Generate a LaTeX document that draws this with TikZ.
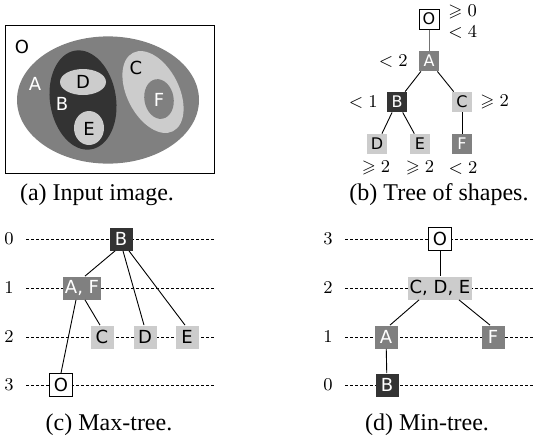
\documentclass[tikz,border=0pt]{standalone}
\usepackage{amsmath}
\usepackage{amssymb}
\usepackage{fontspec}
\setmainfont{Liberation Serif}
\newfontfamily\lettersf{DejaVu Sans}
\usetikzlibrary{positioning, calc}

\definecolor{darkB}{gray}{0.2}
\definecolor{midA}{gray}{0.5}
\definecolor{lightC}{gray}{0.8}

\begin{document}
\begin{tikzpicture}[x=0.5pt, y=-0.5pt,
    shp/.style={inner sep=1pt, minimum width=11.5pt, minimum height=11.5pt,
        font=\lettersf\fontsize{9}{10}\selectfont},
    shpb/.style={inner sep=1pt, minimum width=10pt, minimum height=10pt,
        font=\lettersf\fontsize{8}{9}\selectfont},
    lvO/.style={fill=white, draw=black, line width=0.5pt},
    lvA/.style={fill=midA, text=white},
    lvB/.style={fill=darkB, text=white},
    lvC/.style={fill=lightC, text=black},
    edge/.style={line width=0.45pt},
    level/.style={dashed, dash pattern=on 1.5pt off 1pt, line width=0.4pt},
    lab/.style={font=\lettersf\fontsize{9}{10}\selectfont},
    ineq/.style={font=\fontsize{9}{10}\selectfont, inner sep=1pt},
    capt/.style={font=\fontsize{12}{14}\selectfont}]
\useasboundingbox (0,0) rectangle (533,435);

% Input image
\draw[line width=0.5pt] (5,25) rectangle (214,173);
\fill[midA] (108,100) ellipse [x radius=45.5pt, y radius=31.8pt];
\fill[darkB, shift={(83,100)}, rotate=9] (0,0) ellipse [x radius=16.5pt, y radius=25pt];
\fill[lightC] (83,82) ellipse [x radius=11.5pt, y radius=6.5pt];
\fill[lightC] (89,128) ellipse [x radius=7.5pt, y radius=8.5pt];
\fill[lightC, shift={(153,92)}, rotate=27] (0,0) ellipse [x radius=13pt, y radius=22pt];
\fill[midA, shift={(159,99)}, rotate=10] (0,0) ellipse [x radius=7.3pt, y radius=10pt];
\node[lab] (imO) at (22,47) {O};
\node[lab, text=white] (imA) at (35,84) {A};
\node[lab, text=white] (imB) at (62,104) {B};
\node[lab] (imC) at (136,68) {C};
\node[lab] (imD) at (83,82) {D};
\node[lab] (imE) at (89,129) {E};
\node[lab, text=white] (imF) at (159,100) {F};
\node[capt] (captA) at (97,195) {(a) Input image.};

% Tree of shapes
\node[shpb, lvO] (tO) at (429,19) {O};
\node[shpb, lvA] (tA) at (429,61) {A};
\node[shpb, lvB] (tB) at (397,102) {B};
\node[shpb, lvC] (tC) at (462,102) {C};
\node[shpb, lvC] (tD) at (377,144) {D};
\node[shpb, lvC] (tE) at (420,144) {E};
\node[shpb, lvA] (tF) at (462,144) {F};
\draw[edge, black!55] (tO) -- (tA);
\draw[edge] (tA) -- (tB);
\draw[edge] (tA) -- (tC);
\draw[edge] (tB) -- (tD);
\draw[edge] (tB) -- (tE);
\draw[edge] (tC) -- (tF);
\node[ineq, anchor=west] (iO1) at (446,12) {$\geqslant 0$};
\node[ineq, anchor=west] (iO2) at (446,32) {$< 4$};
\node[ineq, anchor=east] (iA) at (410,61) {$< 2$};
\node[ineq, anchor=east] (iB) at (380,102) {$< 1$};
\node[ineq, anchor=west] (iC) at (478,102) {$\geqslant 2$};
\node[ineq] (iD) at (376,168) {$\geqslant 2$};
\node[ineq] (iE) at (420,168) {$\geqslant 2$};
\node[ineq] (iF) at (463,168) {$< 2$};
\node[capt] (captB) at (439,195) {(b) Tree of shapes.};

% Max-tree
\foreach \lv/\y in {0/239, 1/288, 2/337, 3/385} {
    \node[ineq] at (9,\y) {$\lv$};
    \draw[level] (26,\y) -- (214,\y);
}
\node[shp, lvB] (xB) at (121,239) {B};
\node[shp, lvA] (xAF) at (82,288) {A, F};
\node[shp, lvC] (xC) at (102,337) {C};
\node[shp, lvC] (xD) at (145,337) {D};
\node[shp, lvC] (xE) at (187,337) {E};
\node[shp, lvO] (xO) at (61,385) {O};
\draw[edge] ([xshift=-3pt]xB.south) -- ([xshift=1.5pt]xAF.north);
\draw[edge] ([xshift=1pt]xB.south) -- ([xshift=-0.5pt]xD.north);
\draw[edge] ([xshift=4pt]xB.south) -- ([xshift=-1pt]xE.north);
\draw[edge] ([xshift=1.5pt]xAF.south) -- ([xshift=-1pt]xC.north);
\draw[edge] ([xshift=-3pt]xAF.south) -- (xO.north);
\node[capt] (captC) at (109,425) {(c) Max-tree.};

% Min-tree
\foreach \lv/\y in {3/239, 2/288, 1/337, 0/385} {
    \node[ineq] at (328,\y) {$\lv$};
    \draw[level] (345,\y) -- (533,\y);
}
\node[shp, lvO] (nO) at (440,239) {O};
\node[shp, lvC] (nCDE) at (440,288) {C, D, E};
\node[shp, lvA] (nA) at (386,337) {A};
\node[shp, lvA] (nF) at (493,337) {F};
\node[shp, lvB] (nB) at (387,385) {B};
\draw[edge] (nO) -- (nCDE);
\draw[edge] ([xshift=-10.5pt]nCDE.south) -- ([xshift=2pt]nA.north);
\draw[edge] ([xshift=9.5pt]nCDE.south) -- ([xshift=-1.5pt]nF.north);
\draw[edge] (nA) -- (nB);
\node[capt] (captD) at (427,425) {(d) Min-tree.};
\end{tikzpicture}
\end{document}
